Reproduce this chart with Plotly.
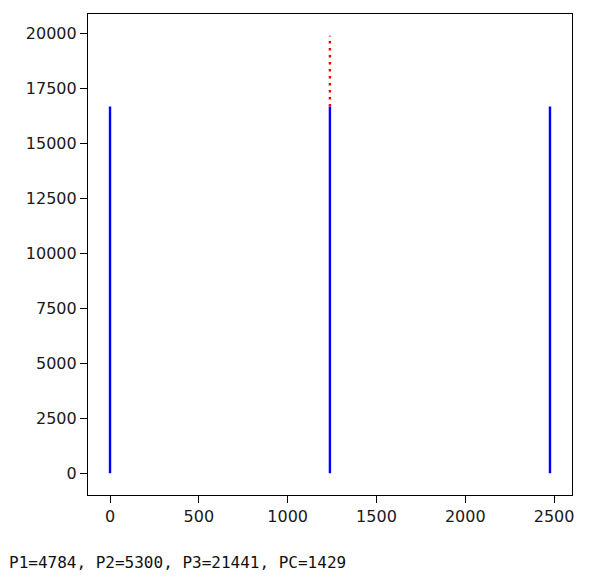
import plotly.graph_objects as go

# Data
line_x = [0, 1238, 2477]          # positions of the blue vertical lines
line_top = [16668, 16668, 16668]  # heights of the blue lines
red_x = [1238]                    # position of the red dotted extension
red_bottom = [16668]
red_top = [19880]

x_ticks = [0, 500, 1000, 1500, 2000, 2500]
y_ticks = [0, 2500, 5000, 7500, 10000, 12500, 15000, 17500, 20000]
caption = "P1=4784, P2=5300, P3=21441, PC=1429"

fig = go.Figure()

for xv, top in zip(line_x, line_top):
    fig.add_trace(go.Scatter(x=[xv, xv], y=[0, top], mode="lines",
                             line=dict(color="#0000ff", width=2.4),
                             showlegend=False, hoverinfo="skip"))

for xv, b, t in zip(red_x, red_bottom, red_top):
    fig.add_trace(go.Scatter(x=[xv, xv], y=[b, t], mode="lines",
                             line=dict(color="#ff0000", width=2.4, dash="2.4px,4.6px"),
                             showlegend=False, hoverinfo="skip"))

axis_common = dict(showgrid=False, zeroline=False, showline=True, mirror=True,
                   linecolor="#000000", linewidth=1.2, ticks="outside", ticklen=7,
                   tickwidth=1.2, tickcolor="#000000", automargin=False,
                   tickfont=dict(family="DejaVu Sans", size=16, color="#1a1a1a"))

fig.update_xaxes(range=[-124, 2601], tickvals=x_ticks,
                 ticktext=[str(v) for v in x_ticks], **axis_common)
fig.update_yaxes(range=[-994, 20874], tickvals=y_ticks,
                 ticktext=[str(v) for v in y_ticks], **axis_common)

fig.add_annotation(text=caption, xref="paper", yref="paper",
                   x=-0.167, y=-0.141, xanchor="left", yanchor="middle",
                   showarrow=False,
                   font=dict(family="DejaVu Sans Mono", size=16, color="#111111"))

fig.update_layout(width=603, height=581,
                  margin=dict(l=88, r=31, t=14, b=86),
                  paper_bgcolor="white", plot_bgcolor="white")

fig.write_html("out.html", config={"displayModeBar": False},
               post_script="document.body.style.margin='0';document.body.style.padding='0';")
